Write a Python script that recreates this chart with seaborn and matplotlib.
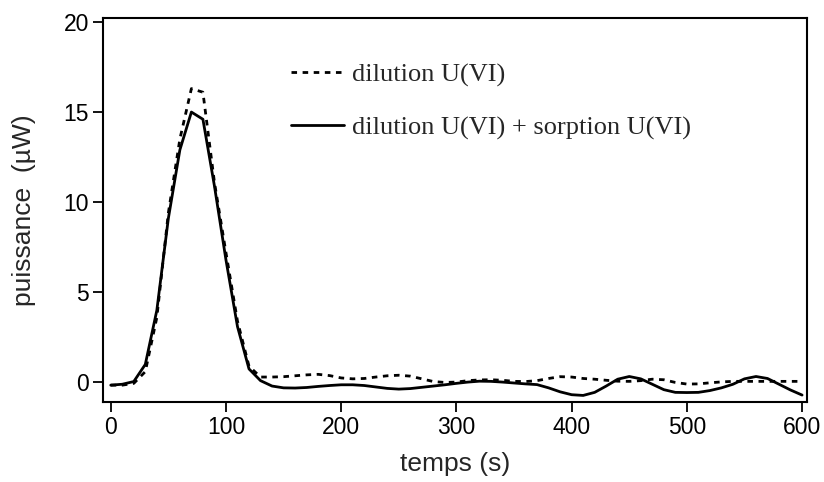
import numpy as np
import pandas as pd
import matplotlib
matplotlib.use("Agg")
import matplotlib.pyplot as plt
import seaborn as sns

# temps (s), pas de 10 s
temps = list(range(0, 601, 10))

# dilution U(VI)  (pointillés)
dilution = [
    -0.15, -0.15, -0.05, 0.6, 3.6, 9.4, 13.5, 16.3, 16.1, 11.1,
    7.2, 3.4, 0.9, 0.3, 0.3, 0.32, 0.37, 0.42, 0.45, 0.38,
    0.25, 0.2, 0.22, 0.3, 0.37, 0.4, 0.35, 0.2, 0.05, 0.0,
    0.02, 0.1, 0.14, 0.15, 0.12, 0.06, 0.05, 0.1, 0.22, 0.32,
    0.3, 0.22, 0.18, 0.12, 0.07, 0.06, 0.1, 0.18, 0.15, 0.0,
    -0.09, -0.08, -0.02, 0.03, 0.06, 0.06, 0.06, 0.06, 0.06, 0.06,
    0.06,
]

# dilution U(VI) + sorption U(VI)  (trait plein)
dilution_sorption = [
    -0.15, -0.1, 0.05, 1.0, 4.0, 9.1, 12.9, 15.0, 14.6, 10.9,
    6.8, 3.1, 0.75, 0.1, -0.2, -0.3, -0.31, -0.28, -0.22, -0.17,
    -0.13, -0.13, -0.17, -0.25, -0.33, -0.37, -0.34, -0.27, -0.2, -0.13,
    -0.05, 0.02, 0.07, 0.06, 0.02, -0.03, -0.08, -0.12, -0.3, -0.52,
    -0.68, -0.72, -0.55, -0.2, 0.18, 0.33, 0.2, -0.1, -0.4, -0.55,
    -0.56, -0.55, -0.45, -0.3, -0.1, 0.2, 0.33, 0.22, -0.1, -0.42,
    -0.7,
]

df = pd.DataFrame({
    "temps": temps,
    "dilution": dilution,
    "dilution_sorption": dilution_sorption,
})

sns.set_style("ticks")
plt.rcParams["font.family"] = ["Liberation Sans", "DejaVu Sans"]

fig = plt.figure(figsize=(8.24, 4.82), dpi=100)
ax = fig.add_axes([0.1246, 0.1654, 0.979 - 0.1246, 0.962 - 0.1654])

sns.lineplot(data=df, x="temps", y="dilution", color="black",
             linestyle=(0, (2, 2)), lw=2, ax=ax,
             label="dilution U(VI)")
sns.lineplot(data=df, x="temps", y="dilution_sorption", color="black",
             linestyle="-", lw=2, ax=ax,
             label="dilution U(VI) + sorption U(VI)")

ax.set_xlim(-7, 604)
ax.set_ylim(-1.1, 20.2)
ax.set_xticks(range(0, 601, 100))
ax.set_yticks(range(0, 21, 5))

ax.set_xlabel("temps (s)", fontsize=19, labelpad=9)
ax.set_ylabel("puissance  (µW)", fontsize=19, labelpad=20)
ax.tick_params(axis="both", direction="out", length=7, width=1.3,
               labelsize=16.5, pad=3, colors="black")

for side in ["left", "right", "top", "bottom"]:
    ax.spines[side].set_visible(True)
    ax.spines[side].set_linewidth(1.5)
    ax.spines[side].set_color("black")

ax.legend(
    loc="upper left", bbox_to_anchor=(0.234, 0.946),
    frameon=False,
    prop={"family": "Liberation Serif", "size": 19},
    handlelength=2.0, handletextpad=0.3, labelspacing=1.1,
)

plt.savefig("out.png", dpi=100)
